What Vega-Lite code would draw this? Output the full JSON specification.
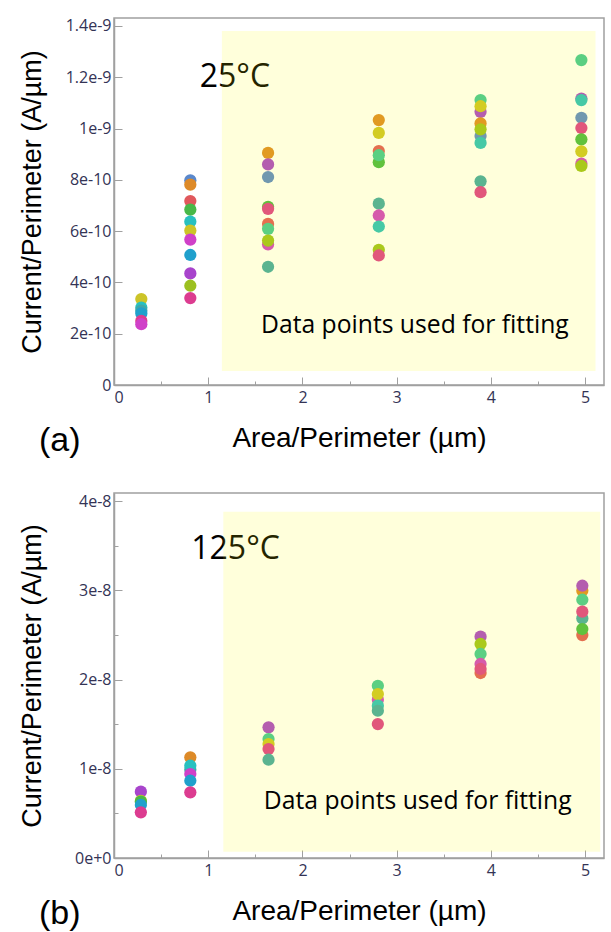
{
  "$schema": "https://vega.github.io/schema/vega-lite/v6.json",
  "background": "white",
  "padding": {"left": 17, "top": 17, "right": 5, "bottom": 5},
  "spacing": 33,
  "config": {
    "view": {"stroke": "#a0a0a0", "strokeWidth": 1.5},
    "axis": {
      "labelFont": "Open Sans", "labelFontSize": 16, "labelColor": "#333355",
      "titleFont": "Liberation Sans", "titleFontSize": 27, "titleFontWeight": "normal", "titleColor": "black",
      "domainColor": "#a0a0a0", "domainWidth": 1.5, "tickColor": "#a0a0a0", "grid": false
    },
    "axisX": {"titleFontSize": 28}
  },
  "datasets": {
    "top": [
      {"x": 0.29, "y": 3.35e-10, "dev": "D6"}, {"x": 0.29, "y": 3.02e-10, "dev": "D5"}, {"x": 0.29, "y": 2.9e-10, "dev": "D12"}, {"x": 0.29, "y": 2.79e-10, "dev": "D8"}, {"x": 0.29, "y": 2.5e-10, "dev": "D11"}, {"x": 0.29, "y": 2.37e-10, "dev": "D7"},
      {"x": 0.81, "y": 7.98e-10, "dev": "D2"}, {"x": 0.81, "y": 7.81e-10, "dev": "D1"}, {"x": 0.81, "y": 7.17e-10, "dev": "D3"}, {"x": 0.81, "y": 6.84e-10, "dev": "D4"}, {"x": 0.81, "y": 6.37e-10, "dev": "D5"}, {"x": 0.81, "y": 6.02e-10, "dev": "D6"}, {"x": 0.81, "y": 5.67e-10, "dev": "D7"}, {"x": 0.81, "y": 5.07e-10, "dev": "D8"}, {"x": 0.81, "y": 4.35e-10, "dev": "D9"}, {"x": 0.81, "y": 3.87e-10, "dev": "D10"}, {"x": 0.81, "y": 3.39e-10, "dev": "D11"},
      {"x": 1.635, "y": 9.05e-10, "dev": "D1"}, {"x": 1.635, "y": 8.6e-10, "dev": "D9"}, {"x": 1.635, "y": 8.11e-10, "dev": "D2"}, {"x": 1.635, "y": 6.95e-10, "dev": "D4"}, {"x": 1.635, "y": 6.87e-10, "dev": "D11"}, {"x": 1.635, "y": 6.28e-10, "dev": "D3"}, {"x": 1.635, "y": 6.09e-10, "dev": "D13"}, {"x": 1.635, "y": 5.48e-10, "dev": "D7"}, {"x": 1.635, "y": 5.63e-10, "dev": "D10"}, {"x": 1.635, "y": 4.61e-10, "dev": "D12"},
      {"x": 2.81, "y": 1.033e-9, "dev": "D1"}, {"x": 2.81, "y": 9.83e-10, "dev": "D6"}, {"x": 2.81, "y": 9.12e-10, "dev": "D3"}, {"x": 2.81, "y": 8.69e-10, "dev": "D4"}, {"x": 2.81, "y": 8.96e-10, "dev": "D13"}, {"x": 2.81, "y": 7.07e-10, "dev": "D12"}, {"x": 2.81, "y": 6.61e-10, "dev": "D7"}, {"x": 2.81, "y": 6.18e-10, "dev": "D5"}, {"x": 2.81, "y": 5.27e-10, "dev": "D10"}, {"x": 2.81, "y": 5.05e-10, "dev": "D11"},
      {"x": 3.89, "y": 1.111e-9, "dev": "D13"}, {"x": 3.89, "y": 1.065e-9, "dev": "D9"}, {"x": 3.89, "y": 1.087e-9, "dev": "D6"}, {"x": 3.89, "y": 1.02e-9, "dev": "D1"}, {"x": 3.89, "y": 9.71e-10, "dev": "D2"}, {"x": 3.89, "y": 9.97e-10, "dev": "D10"}, {"x": 3.89, "y": 9.44e-10, "dev": "D5"}, {"x": 3.89, "y": 7.94e-10, "dev": "D12"}, {"x": 3.89, "y": 7.52e-10, "dev": "D11"},
      {"x": 4.96, "y": 1.267e-9, "dev": "D13"}, {"x": 4.96, "y": 1.117e-9, "dev": "D9"}, {"x": 4.96, "y": 1.111e-9, "dev": "D5"}, {"x": 4.96, "y": 1.042e-9, "dev": "D2"}, {"x": 4.96, "y": 1.002e-9, "dev": "D11"}, {"x": 4.96, "y": 9.58e-10, "dev": "D4"}, {"x": 4.96, "y": 9.11e-10, "dev": "D6"}, {"x": 4.96, "y": 8.63e-10, "dev": "D7"}, {"x": 4.96, "y": 8.54e-10, "dev": "D10"}
    ],
    "bottom": [
      {"x": 0.285, "y": 7.43e-9, "dev": "D9"}, {"x": 0.285, "y": 6.4e-9, "dev": "D6"}, {"x": 0.285, "y": 6.31e-9, "dev": "D4"}, {"x": 0.285, "y": 5.94e-9, "dev": "D8"}, {"x": 0.285, "y": 5.12e-9, "dev": "D11"},
      {"x": 0.81, "y": 1.128e-8, "dev": "D1"}, {"x": 0.81, "y": 9.9e-9, "dev": "D12"}, {"x": 0.81, "y": 1.034e-8, "dev": "D5"}, {"x": 0.81, "y": 9.41e-9, "dev": "D7"}, {"x": 0.81, "y": 8.66e-9, "dev": "D8"}, {"x": 0.81, "y": 7.36e-9, "dev": "D11"},
      {"x": 1.64, "y": 1.464e-8, "dev": "D9"}, {"x": 1.64, "y": 1.333e-8, "dev": "D13"}, {"x": 1.64, "y": 1.277e-8, "dev": "D6"}, {"x": 1.64, "y": 1.221e-8, "dev": "D11"}, {"x": 1.64, "y": 1.101e-8, "dev": "D12"},
      {"x": 2.8, "y": 1.93e-8, "dev": "D13"}, {"x": 2.8, "y": 1.774e-8, "dev": "D7"}, {"x": 2.8, "y": 1.837e-8, "dev": "D6"}, {"x": 2.8, "y": 1.707e-8, "dev": "D5"}, {"x": 2.8, "y": 1.65e-8, "dev": "D12"}, {"x": 2.8, "y": 1.501e-8, "dev": "D11"},
      {"x": 3.89, "y": 2.073e-8, "dev": "D3"}, {"x": 3.89, "y": 2.48e-8, "dev": "D9"}, {"x": 3.89, "y": 2.398e-8, "dev": "D10"}, {"x": 3.89, "y": 2.286e-8, "dev": "D13"}, {"x": 3.89, "y": 2.174e-8, "dev": "D7"}, {"x": 3.89, "y": 2.118e-8, "dev": "D11"},
      {"x": 4.97, "y": 2.498e-8, "dev": "D3"}, {"x": 4.97, "y": 2.995e-8, "dev": "D1"}, {"x": 4.97, "y": 3.051e-8, "dev": "D9"}, {"x": 4.97, "y": 2.894e-8, "dev": "D13"}, {"x": 4.97, "y": 2.685e-8, "dev": "D12"}, {"x": 4.97, "y": 2.76e-8, "dev": "D11"}, {"x": 4.97, "y": 2.566e-8, "dev": "D4"}
    ]
  },
  "vconcat": [
    {
      "width": 490, "height": 367,
      "title": {"text": "(a)", "orient": "bottom", "anchor": "start", "fontSize": 34, "font": "Liberation Sans", "fontWeight": "normal", "color": "black", "dx": 21, "dy": -32},
      "layer": [
        {
          "data": {"name": "top"},
          "mark": {"type": "point", "filled": true, "size": 150, "opacity": 1},
          "encoding": {
            "x": {"field": "x", "type": "quantitative", "title": "Area/Perimeter (µm)",
              "scale": {"domain": [0, 5.2], "nice": false, "zero": false},
              "axis": {"values": [0, 0.5, 1, 1.5, 2, 2.5, 3, 3.5, 4, 4.5, 5], "labelExpr": "datum.value % 1 == 0 ? format(datum.value, 'd') : ''", "tickSize": {"condition": {"test": "datum.value % 1 != 0", "value": -4}, "value": -8}, "labelPadding": 12, "titlePadding": 19}},
            "y": {"field": "y", "type": "quantitative", "title": "Current/Perimeter (A/µm)",
              "scale": {"domain": [0, 1.431e-9], "nice": false},
              "axis": {"values": [0, 2e-10, 4e-10, 6e-10, 8e-10, 1e-9, 1.2e-9, 1.4e-9], "labelExpr": "datum.value == 0 ? '0' : format(datum.value, '~e')", "tickSize": -8, "labelPadding": 11, "titleX": -68, "titleBaseline": "bottom"}},
            "color": {"field": "dev", "type": "nominal", "legend": null,
              "scale": {"domain": ["D1","D2","D3","D4","D5","D6","D7","D8","D9","D10","D11","D12","D13"],
                "range": ["#dd8a28","#5a88cc","#e0585c","#48b848","#28c0c0","#ccc428","#d040c8","#20a0cc","#a844cc","#9cc020","#dc3c90","#40a8a8","#40c898"]}}
          }
        },
        {
          "data": {"values": [{"x": 0.91, "y": 1.2e-9, "t": "25°C"}]},
          "mark": {"type": "text", "font": "Open Sans", "fontSize": 32, "align": "left", "baseline": "middle", "color": "black"},
          "encoding": {"x": {"field": "x", "type": "quantitative"}, "y": {"field": "y", "type": "quantitative"}, "text": {"field": "t"}}
        },
        {
          "data": {"values": [{"x": 1.145, "x2": 5.11, "y": 5.5e-11, "y2": 1.38e-9}]},
          "mark": {"type": "rect", "color": "#ffff00", "opacity": 0.14},
          "encoding": {"x": {"field": "x", "type": "quantitative"}, "x2": {"field": "x2"}, "y": {"field": "y", "type": "quantitative"}, "y2": {"field": "y2"}}
        },
        {
          "data": {"values": [{"x": 1.56, "y": 2.31e-10, "t": "Data points used for fitting"}]},
          "mark": {"type": "text", "font": "Open Sans", "fontSize": 24.7, "align": "left", "baseline": "middle", "color": "black"},
          "encoding": {"x": {"field": "x", "type": "quantitative"}, "y": {"field": "y", "type": "quantitative"}, "text": {"field": "t"}}
        }
      ]
    },
    {
      "width": 490, "height": 365,
      "title": {"text": "(b)", "orient": "bottom", "anchor": "start", "fontSize": 34, "font": "Liberation Sans", "fontWeight": "normal", "color": "black", "dx": 21, "dy": -32},
      "layer": [
        {
          "data": {"name": "bottom"},
          "mark": {"type": "point", "filled": true, "size": 150, "opacity": 1},
          "encoding": {
            "x": {"field": "x", "type": "quantitative", "title": "Area/Perimeter (µm)",
              "scale": {"domain": [0, 5.2], "nice": false, "zero": false},
              "axis": {"values": [0, 0.5, 1, 1.5, 2, 2.5, 3, 3.5, 4, 4.5, 5], "labelExpr": "datum.value % 1 == 0 ? format(datum.value, 'd') : ''", "tickSize": {"condition": {"test": "datum.value % 1 != 0", "value": -4}, "value": -8}, "labelPadding": 12, "titlePadding": 19}},
            "y": {"field": "y", "type": "quantitative", "title": "Current/Perimeter (A/µm)",
              "scale": {"domain": [0, 4.09e-8], "nice": false},
              "axis": {"values": [0, 5e-9, 1e-8, 1.5e-8, 2e-8, 2.5e-8, 3e-8, 3.5e-8, 4e-8], "labelExpr": "abs(datum.value*1e8 - round(datum.value*1e8)) < 0.01 ? format(datum.value, '~e') : ''", "tickSize": {"condition": {"test": "abs(datum.value*1e8 - round(datum.value*1e8)) > 0.01", "value": -4}, "value": -8}, "labelPadding": 11, "titleX": -68, "titleBaseline": "bottom"}},
            "color": {"field": "dev", "type": "nominal", "legend": null,
              "scale": {"domain": ["D1","D2","D3","D4","D5","D6","D7","D8","D9","D10","D11","D12","D13"],
                "range": ["#dd8a28","#5a88cc","#e0585c","#48b848","#28c0c0","#ccc428","#d040c8","#20a0cc","#a844cc","#9cc020","#dc3c90","#40a8a8","#40c898"]}}
          }
        },
        {
          "data": {"values": [{"x": 0.82, "y": 3.46e-8, "t": "125°C"}]},
          "mark": {"type": "text", "font": "Open Sans", "fontSize": 32, "align": "left", "baseline": "middle", "color": "black"},
          "encoding": {"x": {"field": "x", "type": "quantitative"}, "y": {"field": "y", "type": "quantitative"}, "text": {"field": "t"}}
        },
        {
          "data": {"values": [{"x": 1.16, "x2": 5.16, "y": 7e-10, "y2": 3.88e-8}]},
          "mark": {"type": "rect", "color": "#ffff00", "opacity": 0.14},
          "encoding": {"x": {"field": "x", "type": "quantitative"}, "x2": {"field": "x2"}, "y": {"field": "y", "type": "quantitative"}, "y2": {"field": "y2"}}
        },
        {
          "data": {"values": [{"x": 1.59, "y": 6.3e-9, "t": "Data points used for fitting"}]},
          "mark": {"type": "text", "font": "Open Sans", "fontSize": 24.7, "align": "left", "baseline": "middle", "color": "black"},
          "encoding": {"x": {"field": "x", "type": "quantitative"}, "y": {"field": "y", "type": "quantitative"}, "text": {"field": "t"}}
        }
      ]
    }
  ]
}
